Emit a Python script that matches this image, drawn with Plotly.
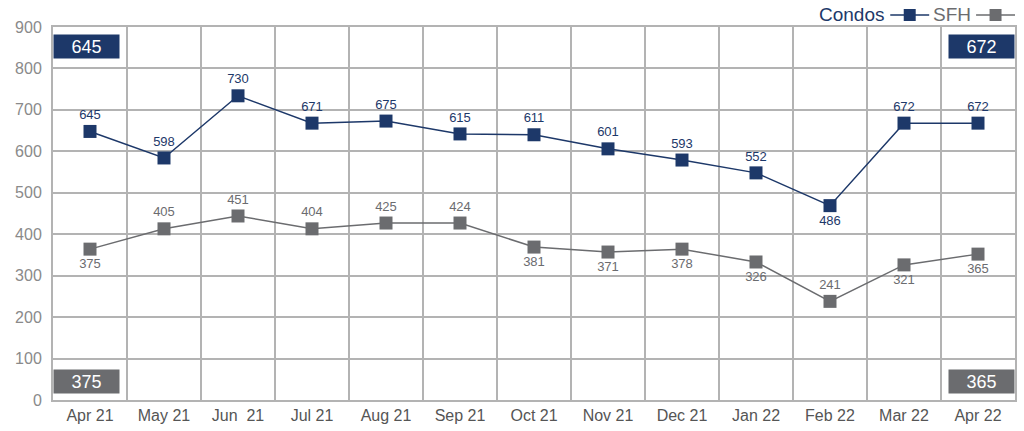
import plotly.graph_objects as go

months = ["Apr 21", "May 21", "Jun  21", "Jul 21", "Aug 21", "Sep 21", "Oct 21",
          "Nov 21", "Dec 21", "Jan 22", "Feb 22", "Mar 22", "Apr 22"]
# positions as drawn in the picture
condos_values = [648, 584, 734, 668, 673, 642, 640, 606, 579, 548, 469, 668, 668]
sfh_values = [364, 413, 444, 413, 427, 427, 369, 357, 364, 333, 238, 326, 352]
# printed data labels
condos_labels = [645, 598, 730, 671, 675, 615, 611, 601, 593, 552, 486, 672, 672]
sfh_labels = [375, 405, 451, 404, 425, 424, 381, 371, 378, 326, 241, 321, 365]
condos_pos = ["top center"] * 10 + ["bottom center"] + ["top center"] * 2
sfh_pos = ["bottom center", "top center", "top center", "top center", "top center",
           "top center", "bottom center", "bottom center", "bottom center",
           "bottom center", "top center", "bottom center", "bottom center"]
y_ticks = [0, 100, 200, 300, 400, 500, 600, 700, 800, 900]

NAVY = "#1d3869"
GRAY = "#6b6c6f"
GRID = "#b3b3b3"
FONT = "Liberation Sans, Arial, sans-serif"

W, H = 1024, 431
ML, MR, MT, MB = 53, 7, 27, 31
PW, PH = W - ML - MR, H - MT - MB


def px(x):
    return (x - ML) / PW


def py(y):
    return (H - MB - y) / PH


fig = go.Figure()
fig.add_trace(go.Scatter(
    x=months, y=condos_values, mode="lines+markers+text",
    line=dict(color=NAVY, width=1.5),
    marker=dict(symbol="square", size=13, color=NAVY),
    text=[str(v) for v in condos_labels], textposition=condos_pos,
    textfont=dict(color=NAVY, size=13, family=FONT),
    name="Condos", showlegend=False, cliponaxis=False, hoverinfo="skip"))
fig.add_trace(go.Scatter(
    x=months, y=sfh_values, mode="lines+markers+text",
    line=dict(color=GRAY, width=1.5),
    marker=dict(symbol="square", size=13, color=GRAY),
    text=[str(v) for v in sfh_labels], textposition=sfh_pos,
    textfont=dict(color=GRAY, size=13, family=FONT),
    name="SFH", showlegend=False, cliponaxis=False, hoverinfo="skip"))

annotations = []


def box(x, xanchor, y, txt, color):
    return dict(xref="x", yref="y", x=x, y=y, xanchor=xanchor, yanchor="middle",
                text=txt, showarrow=False, bgcolor=color, width=65, height=23,
                borderpad=0, font=dict(color="white", size=18, family=FONT))


annotations.append(box(-0.5, "left", 853, str(condos_labels[0]), NAVY))
annotations.append(box(len(months) - 0.5, "right", 853, str(condos_labels[-1]), NAVY))
annotations.append(box(-0.5, "left", 45, str(sfh_labels[0]), GRAY))
annotations.append(box(len(months) - 0.5, "right", 45, str(sfh_labels[-1]), GRAY))

# custom legend: text before symbol
shapes = []
legend_items = [("Condos", NAVY, 889, 892, 931), ("SFH", GRAY, 975, 978, 1017)]
for name, col, text_right, l0, l1 in legend_items:
    annotations.append(dict(
        xref="paper", yref="paper", x=px(text_right), y=py(15),
        xanchor="right", yanchor="middle", showarrow=False, text=name,
        font=dict(size=19, color=col, family=FONT)))
    shapes.append(dict(type="line", xref="paper", yref="paper",
                       x0=px(l0), x1=px(l1), y0=py(15), y1=py(15),
                       line=dict(color=col, width=1.5)))
    cx = (l0 + l1) / 2
    shapes.append(dict(type="rect", xref="paper", yref="paper",
                       x0=px(cx - 6), x1=px(cx + 6), y0=py(21), y1=py(9),
                       fillcolor=col, line=dict(width=0)))

fig.update_layout(
    width=W, height=H,
    margin=dict(l=ML, r=MR, t=MT, b=MB),
    paper_bgcolor="white", plot_bgcolor="white",
    annotations=annotations, shapes=shapes,
    font=dict(family=FONT), hovermode=False,
)
fig.update_xaxes(
    type="category", tickson="boundaries", range=[-0.5, len(months) - 0.5],
    showgrid=True, gridcolor=GRID, gridwidth=2,
    showline=True, linecolor=GRID, linewidth=2, mirror=True,
    ticks="", tickfont=dict(size=16, color="#555555", family=FONT),
    fixedrange=True)
fig.update_yaxes(
    range=[0, 900], tickvals=y_ticks,
    showgrid=True, gridcolor=GRID, gridwidth=2, zeroline=False,
    showline=True, linecolor=GRID, linewidth=2, mirror=True,
    ticks="", tickfont=dict(size=16, color="#8a8a8a", family=FONT),
    ticklabelstandoff=6, fixedrange=True)

fig.write_html("out.html", config={"displayModeBar": False, "staticPlot": True},
               post_script="document.body.style.margin='0';document.body.style.overflow='hidden';")
